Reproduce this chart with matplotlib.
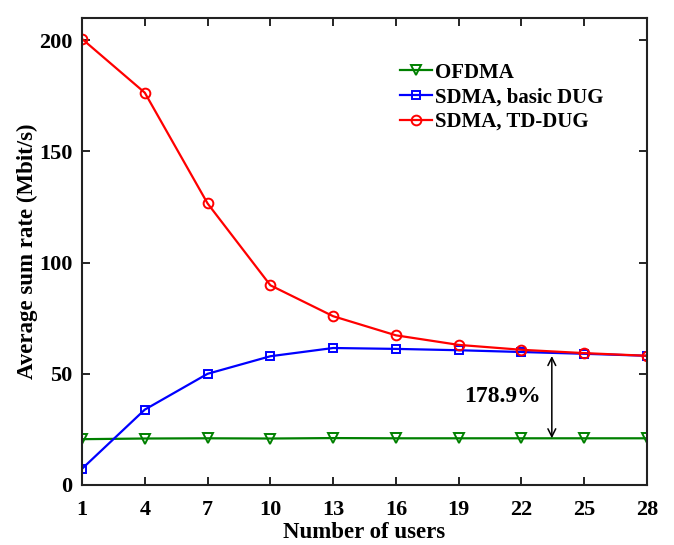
import matplotlib
matplotlib.use("Agg")
import matplotlib.pyplot as plt

plt.rcParams["font.family"] = ["Liberation Serif", "DejaVu Serif"]
plt.rcParams["font.weight"] = "bold"

# data
users = [1, 4, 7, 10, 13, 16, 19, 22, 25, 28]
ofdma = [20.6, 20.9, 21.0, 20.9, 21.1, 21.0, 21.0, 21.0, 21.0, 21.0]
sdma_basic = [7.3, 33.9, 50.0, 57.9, 61.6, 61.2, 60.6, 59.8, 59.0, 58.1]
sdma_td = [200.6, 176.4, 126.6, 89.8, 75.9, 67.3, 63.0, 60.8, 59.3, 58.1]

gain_label = "178.9%"
gain_x = 23.45
gain_top = 58.0
gain_bottom = 21.0

fig = plt.figure(figsize=(6.74, 5.45), dpi=100)
ax = fig.add_axes([0.1217, 0.1101, 0.8383, 0.8569])

ax.plot(users, ofdma, color="#008000", lw=1.6, marker="v", ms=7.5,
        mfc="none", mew=1.4, label="OFDMA")
ax.plot(users, sdma_basic, color="#0000FF", lw=1.6, marker="s", ms=5.5,
        mfc="none", mew=1.4, label="SDMA, basic DUG")
ax.plot(users, sdma_td, color="#FF0000", lw=1.6, marker="o", ms=7,
        mfc="none", mew=1.4, label="SDMA, TD-DUG")

# improvement arrow between OFDMA and SDMA curves
ax.annotate("", xy=(gain_x, gain_bottom), xytext=(gain_x, gain_top),
            arrowprops=dict(arrowstyle="<->", color="black", lw=1.1,
                            shrinkA=0, shrinkB=0, mutation_scale=14))
ax.text(21.1, 40, gain_label, ha="center", va="center",
        fontsize=17, fontweight="bold")

ax.set_xlim(1, 28)
ax.set_ylim(0, 210)
ax.set_xticks(users)
ax.set_yticks([0, 50, 100, 150, 200])
ax.tick_params(direction="in", top=True, right=True, length=6, width=1.2,
               labelsize=16, pad=7)
ax.tick_params(axis="x", pad=11)
for lab in ax.get_xticklabels() + ax.get_yticklabels():
    lab.set_fontweight("bold")
for spine in ax.spines.values():
    spine.set_linewidth(1.5)
    spine.set_color("#222222")

ax.set_xlabel("Number of users", fontsize=16.5, fontweight="bold", labelpad=1.5)
ax.set_ylabel("Average sum rate (Mbit/s)", fontsize=16.5, fontweight="bold",
              labelpad=1)

ax.legend(loc="upper left", bbox_to_anchor=(0.5935, 0.885),
          bbox_transform=fig.transFigure, frameon=False,
          handlelength=1.55, handletextpad=0.12, labelspacing=0.22,
          borderpad=0, borderaxespad=0, prop={"weight": "bold", "size": 15})

fig.savefig("out.png", dpi=100)
